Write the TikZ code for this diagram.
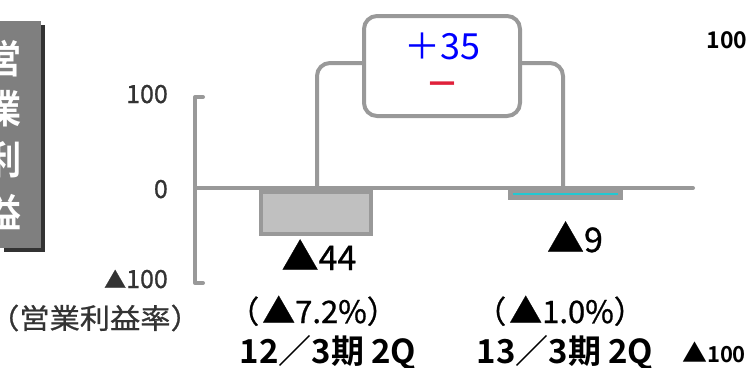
\documentclass[tikz,border=0pt]{standalone}
\usepackage{fontspec}
\setmainfont{Noto Sans CJK JP}
\newfontfamily\cjkmed{Noto Sans CJK JP}[FakeBold=0.8]
\newfontfamily\cjkbold{Noto Sans CJK JP Bold}
\definecolor{axisgray}{HTML}{999999}
\definecolor{barfill}{HTML}{C0C0C0}
\definecolor{boxgray}{HTML}{7F7F7F}
\definecolor{shadowgray}{HTML}{333333}
\definecolor{cyanline}{HTML}{22C8D2}
\definecolor{plusblue}{HTML}{0000FF}
\definecolor{minusred}{HTML}{E0203A}
\definecolor{labelgray}{HTML}{333333}
\newcommand{\bigtri}[1]{{\fontsize{#1}{#1}\selectfont ▲}}
\begin{document}
\begin{tikzpicture}[x=1pt,y=-1pt,
  axisline/.style={draw=axisgray,line width=4pt,line cap=round},
  conn/.style={draw=axisgray,line width=4pt,rounded corners=13pt},
  axlabel/.style={text=labelgray,font=\cjkmed\fontsize{25}{27}\selectfont,anchor=base east,inner sep=0pt},
  vallabel/.style={text=black,font=\cjkmed\fontsize{34}{36}\selectfont,inner sep=0pt,anchor=base},
  pctlabel/.style={text=black,font=\cjkmed\fontsize{31}{33}\selectfont,inner sep=0pt,anchor=base},
  periodlabel/.style={text=black,font=\cjkbold\fontsize{33}{35}\selectfont,inner sep=0pt,anchor=base},
  vchar/.style={text=white,font=\cjkbold\fontsize{39}{41}\selectfont,inner sep=0pt,xscale=0.82}
]
\useasboundingbox (0,0) rectangle (755,367);
% left title box
\fill[shadowgray] (4,25) rectangle (45,252);
\node[fill=boxgray,minimum width=45pt,minimum height=227pt,inner sep=0pt,anchor=north east] (title) at (41,21) {};
\node[vchar] (t1) at (5,59) {営};
\node[vchar] (t2) at (5,109) {業};
\node[vchar] (t3) at (5,160) {利};
\node[vchar] (t4) at (5,212) {益};
% axis
\coordinate (ytop) at (203,97);
\coordinate (ybot) at (203,283);
\coordinate (z0) at (195,188);
\coordinate (zend) at (693,188);
\draw[axisline,line join=round] (ytop) -- (195,97) -- (195,283) -- (ybot);
\draw[axisline] (z0) -- (zend);
% axis labels
\node[axlabel] (l100) at (168,103) {100};
\node[axlabel] (l0) at (168,198) {0};
\node[axlabel] (lm100) at (168,288) {\bigtri{22}100};
\node[text=labelgray,font=\cjkmed\fontsize{28}{30}\selectfont,inner sep=0pt,xscale=1.08] (rate) at (95,318) {（営業利益率）};
% bars
\node[draw=axisgray,fill=barfill,line width=4pt,minimum width=110pt,minimum height=42pt,inner sep=0pt,anchor=north] (bar1) at (316,190) {};
\node[fill=axisgray,minimum width=115pt,minimum height=12pt,inner sep=0pt,anchor=north] (bar2) at (565.5,188) {};
\draw[cyanline,line width=2.2pt] ([xshift=5pt]bar2.west) -- ([xshift=-5pt]bar2.east);
% difference box
\node[draw=axisgray,line width=4pt,rounded corners=13pt,minimum width=156pt,minimum height=100pt,inner sep=0pt,fill=white] (diff) at (442,66) {};
\node[text=plusblue,font=\fontsize{36}{38}\selectfont,inner sep=0pt] (plus) at (442,46) {＋35};
\node[text=minusred,font=\cjkbold\fontsize{34}{36}\selectfont,inner sep=0pt] (minus) at (442,89) {－};
% connectors
\coordinate (c1) at (317,188);
\coordinate (c2) at (563,188);
\draw[conn] (c1) |- (diff.west |- 0,63);
\draw[conn] (diff.east |- 0,63) -| (c2);
% value labels
\node[vallabel] (v1) at (319,270) {\bigtri{37}44};
\node[vallabel] (v2) at (575,252) {\bigtri{37}9};
\node[pctlabel] (p1) at (313,323) {（\hspace{3pt}\bigtri{33}7.2\%）};
\node[pctlabel] (p2) at (560,323) {（\hspace{3pt}\bigtri{33}1.0\%）};
\node[periodlabel] (q1) at (328,363) {12／3期 2Q};
\node[periodlabel] (q2) at (565,363) {13／3期 2Q};
% right stray labels
\node[text=black,font=\cjkbold\fontsize{23}{24}\selectfont,inner sep=0pt,anchor=base] (r100) at (727,48) {100};
\node[text=black,font=\cjkbold\fontsize{22}{24}\selectfont,inner sep=0pt,anchor=base] (rm100) at (714,362) {\bigtri{25}100};
\end{tikzpicture}
\end{document}
